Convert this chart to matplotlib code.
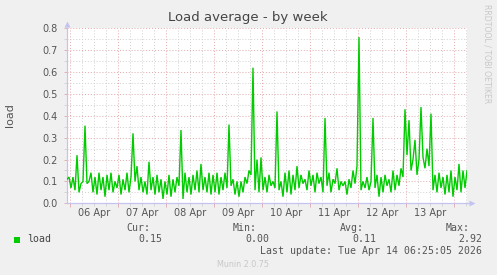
import matplotlib
matplotlib.use("Agg")
import matplotlib.pyplot as plt
import matplotlib.dates as mdates
from matplotlib.ticker import MultipleLocator, NullFormatter
import pandas as pd

# ---------------- data ----------------
start_time = "2026-04-05 22:25"
load = [
    0.11, 0.12, 0.07, 0.12, 0.06, 0.22, 0.05, 0.09, 0.10, 0.355,
    0.09, 0.10, 0.14, 0.05, 0.12, 0.04, 0.14, 0.06, 0.12, 0.03,
    0.13, 0.06, 0.14, 0.05, 0.10, 0.07, 0.13, 0.04, 0.11, 0.06,
    0.14, 0.05, 0.12, 0.32, 0.10, 0.17, 0.06, 0.12, 0.05, 0.10,
    0.04, 0.19, 0.06, 0.12, 0.04, 0.13, 0.05, 0.11, 0.02, 0.10,
    0.04, 0.13, 0.03, 0.11, 0.05, 0.12, 0.08, 0.335, 0.02, 0.14,
    0.05, 0.12, 0.04, 0.13, 0.06, 0.15, 0.05, 0.18, 0.06, 0.12,
    0.05, 0.14, 0.04, 0.13, 0.05, 0.14, 0.04, 0.12, 0.06, 0.14,
    0.07, 0.36, 0.08, 0.11, 0.04, 0.10, 0.03, 0.10, 0.05, 0.12,
    0.09, 0.15, 0.13, 0.62, 0.06, 0.20, 0.05, 0.21, 0.06, 0.12,
    0.05, 0.13, 0.08, 0.10, 0.07, 0.42, 0.06, 0.10, 0.03, 0.14,
    0.05, 0.15, 0.04, 0.13, 0.06, 0.17, 0.07, 0.13, 0.09, 0.11,
    0.06, 0.15, 0.08, 0.13, 0.05, 0.14, 0.09, 0.12, 0.05, 0.39,
    0.08, 0.14, 0.05, 0.11, 0.09, 0.16, 0.06, 0.10, 0.08, 0.10,
    0.04, 0.11, 0.07, 0.15, 0.09, 0.17, 0.76, 0.06, 0.10, 0.07,
    0.12, 0.06, 0.10, 0.39, 0.07, 0.13, 0.03, 0.12, 0.05, 0.13,
    0.08, 0.11, 0.05, 0.15, 0.06, 0.13, 0.08, 0.16, 0.12, 0.43,
    0.22, 0.38, 0.15, 0.20, 0.29, 0.13, 0.20, 0.44, 0.21, 0.16,
    0.25, 0.17, 0.41, 0.06, 0.13, 0.05, 0.14, 0.07, 0.12, 0.04,
    0.13, 0.05, 0.15, 0.03, 0.12, 0.06, 0.18, 0.05, 0.15, 0.07,
    0.15,
]
day_labels = ["06 Apr", "07 Apr", "08 Apr", "09 Apr", "10 Apr", "11 Apr", "12 Apr", "13 Apr"]
day_label_times = ["2026-04-06 12:00", "2026-04-07 12:00", "2026-04-08 12:00", "2026-04-09 12:00",
                   "2026-04-10 12:00", "2026-04-11 12:00", "2026-04-12 12:00", "2026-04-13 12:00"]
y_ticks = [0.0, 0.1, 0.2, 0.3, 0.4, 0.5, 0.6, 0.7, 0.8]
series_name = "load"
stat_names = ["Cur:", "Min:", "Avg:", "Max:"]
stat_values = ["0.15", "0.00", "0.11", "2.92"]
title = "Load average - by week"
last_update = "Last update: Tue Apr 14 06:25:05 2026"

# ---------------- figure ----------------
W, H = 497, 275
BG = "#F0F0F0"
GREEN = "#00CC00"
TXT = "#555555"
AXC = "#C4C4F0"
MAJ = "#E4A8A8"
MIN = "#D0D0D0"

times = pd.date_range(start_time, periods=len(load), freq="h")

fig = plt.figure(figsize=(W / 100, H / 100), dpi=100, facecolor=BG)
L, R, T, B = 67, 467, 28.3, 203.3
ax = fig.add_axes([L / W, 1 - B / H, (R - L) / W, (B - T) / H])
ax.set_facecolor("white")

ax.plot(times, load, color=GREEN, lw=1.0, solid_joinstyle="miter", zorder=3)

ax.set_xlim(times[0], times[-1])
ax.set_ylim(0, 0.8)

# y axis ticks / grid
ax.set_yticks(y_ticks)
ax.set_yticklabels([f"{v:.1f}" for v in y_ticks])
ax.yaxis.set_minor_locator(MultipleLocator(0.05))
ax.tick_params(axis="y", which="major", length=2.5, width=0.6, color=MAJ,
               labelsize=7, labelcolor=TXT, pad=4)
ax.tick_params(axis="y", which="minor", length=2, width=0.6, color=MIN)

# x axis ticks / grid
ax.xaxis.set_major_locator(mdates.DayLocator())
ax.xaxis.set_major_formatter(NullFormatter())
ax.xaxis.set_minor_locator(mdates.HourLocator(byhour=[6, 12, 18]))
ax.xaxis.set_minor_formatter(NullFormatter())
ax.tick_params(axis="x", which="major", length=3, width=0.6, color=MAJ)
ax.tick_params(axis="x", which="minor", length=2, width=0.6, color=MIN)

ax.grid(which="major", color=MAJ, lw=0.7, linestyle=(0, (1, 2)), zorder=1)
ax.grid(which="minor", color=MIN, lw=0.7, linestyle=(0, (1, 2)), zorder=1)
ax.set_axisbelow(True)

for lab, t in zip(day_labels, pd.to_datetime(day_label_times)):
    ax.text(t, -0.055, lab, transform=ax.get_xaxis_transform(), ha="center",
            va="center", fontsize=7, color=TXT)

for side in ["top", "right"]:
    ax.spines[side].set_visible(False)
for side in ["left", "bottom"]:
    ax.spines[side].set_color(AXC)
    ax.spines[side].set_linewidth(0.9)

# axis arrows
ax.plot([1.0, 1.0075], [0, 0], transform=ax.transAxes, color=AXC, lw=0.9, clip_on=False)
ax.plot([1.0125], [0], transform=ax.transAxes, marker=">", ms=4, color=AXC,
        clip_on=False, mec="none")
ax.plot([0, 0], [1.0, 1.02], transform=ax.transAxes, color=AXC, lw=0.9, clip_on=False)
ax.plot([0], [1.025], transform=ax.transAxes, marker="^", ms=4, color=AXC,
        clip_on=False, mec="none")


def fx(x):
    return x / W


def fy(y):
    return 1 - y / H


fig.text(fx(248), fy(18), title, ha="center", va="center", fontsize=9.5, color="#444444")
fig.text(fx(10), fy(115), series_name if False else "load", rotation=90, ha="center",
         va="center", fontsize=8, color=TXT)
fig.text(fx(487), fy(54), "RRDTOOL / TOBI OETIKER", rotation=270, ha="center",
         va="center", fontsize=5.6, color="#C8C8C8")

# legend
MONO = "DejaVu Sans Mono"
fig.patches.append(plt.Rectangle((fx(14), fy(242.7)), 6 / W, 6 / H, transform=fig.transFigure,
                                 facecolor=GREEN, edgecolor="none"))
fig.text(fx(27), fy(239.5), series_name, ha="left", va="center", fontsize=7.1,
         family=MONO, color="#444444")
name_right = [150, 257, 363.5, 470]
val_right = [162.5, 269, 376, 482.5]
for n, v, xn, xv in zip(stat_names, stat_values, name_right, val_right):
    fig.text(fx(xn), fy(228), n, ha="right", va="center", fontsize=7.1, family=MONO, color=TXT)
    fig.text(fx(xv), fy(239.5), v, ha="right", va="center", fontsize=7.1, family=MONO, color=TXT)
fig.text(fx(482.5), fy(251.5), last_update, ha="right", va="center", fontsize=7.1,
         family=MONO, color=TXT)
fig.text(fx(243), fy(264.5), "Munin 2.0.75", ha="center", va="center", fontsize=5.8,
         color="#C8C8C8")

fig.savefig("out.png", dpi=100, facecolor=BG)
